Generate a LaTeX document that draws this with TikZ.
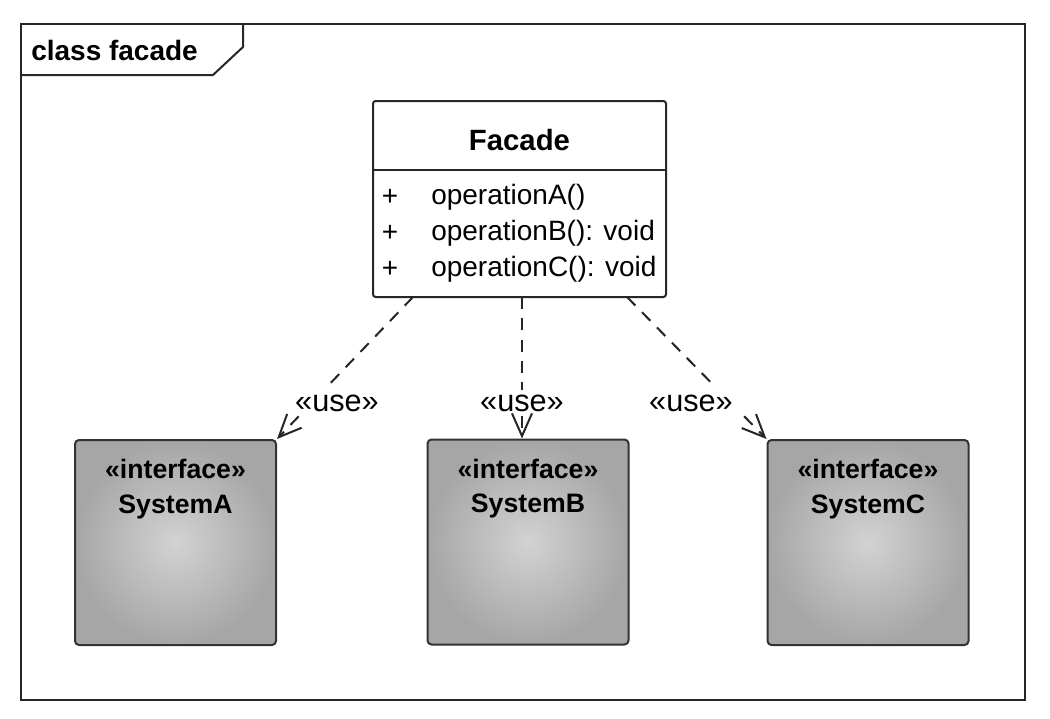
\documentclass[tikz,border=0pt]{standalone}
\usepackage{fontspec}
\setmainfont{Liberation Sans}
\usetikzlibrary{positioning,arrows.meta,calc}

\tikzset{
  framelinestyle/.style={draw=black!85, line width=1.5pt},
  classbox/.style={draw=black!85, line width=1.5pt, fill=white, rounded corners=2pt,
    minimum width=219.75pt, minimum height=147pt, inner sep=0pt},
  sysbox/.style={draw=black!80, line width=1.5pt, rounded corners=3pt,
    inner color=gray!35, outer color=gray!70,
    minimum width=150.75pt, minimum height=153.75pt, inner sep=0pt},
  systext/.style={font=\fontsize{20}{26}\selectfont\bfseries, align=center, inner sep=0pt},
  optext/.style={font=\fontsize{21}{25}\selectfont, inner sep=0.75pt},
  uselabel/.style={font=\fontsize{23}{26}\selectfont, inner sep=3pt},
  usearrow/.style={draw=black!85, line width=1.5pt, dash pattern=on 9pt off 7pt,
    -{Straight Barb[length=17pt,width=15pt,line width=1.5pt]}}
}

\begin{document}
\begin{tikzpicture}[x=0.75pt,y=0.75pt,yscale=-1,xscale=1]
\useasboundingbox (0,0) rectangle (1050,718);

%Frame
\draw[framelinestyle] (21,24) rectangle (1025,700);
%Frame tab
\draw[framelinestyle] (21,75) -- (213,75) -- (243,47) -- (243,24);
% Text Node
\node[anchor=west, inner sep=0pt, font=\fontsize{21}{25}\selectfont\bfseries] (frametitle) at (31,50) {class facade};

%Facade class
\node[classbox] (facade) at (519.5,199) {};
\coordinate (sepy) at (0,170);
\draw[framelinestyle] (facade.west |- sepy) -- (facade.east |- sepy);
\node[inner sep=0pt, font=\fontsize{22}{26}\selectfont\bfseries] (facadetitle) at (519.5,140) {Facade};

%Operations
\node[optext] (plusA) at (390,197) {+};
\node[optext] (plusB) at (390,233) {+};
\node[optext] (plusC) at (390,269) {+};
\node[optext, anchor=west] (opA) at (430,197) {operationA()};
\node[optext, anchor=west] (opB) at (430,233) {operationB(): void};
\node[optext, anchor=west] (opC) at (430,269) {operationC(): void};

%Interfaces
\node[sysbox] (sysA) at (175.5,542.5) {};
\node[sysbox] (sysB) at (528,542) {};
\node[sysbox] (sysC) at (868,542.5) {};
\node[systext, below=15pt of sysA.north] (sysAtext) {«interface»\\SystemA};
\node[systext, below=15pt of sysB.north] (sysBtext) {«interface»\\SystemB};
\node[systext, below=15pt of sysC.north] (sysCtext) {«interface»\\SystemC};

% Text Node
\node[uselabel] (labelA) at (337,403) {«use»};
\node[uselabel] (labelB) at (522,403) {«use»};
\node[uselabel] (labelC) at (691,403) {«use»};

%Dependencies (broken at the labels)
\coordinate (useA) at (413,297);
\coordinate (useB) at (522,297);
\coordinate (useC) at (627,297);
\coordinate (endA) at ($(useA)!0.62!(sysA.north east)$);
\coordinate (arrA) at ($(useA)!0.84!(sysA.north east)$);
\coordinate (endC) at ($(useC)!0.62!(sysC.north west)$);
\coordinate (arrC) at ($(useC)!0.84!(sysC.north west)$);
\draw[usearrow, -] (useA) -- (endA);
\draw[usearrow] (arrA) -- (sysA.north east);
\draw[usearrow, -] (useB) -- (useB |- labelB.north);
\draw[usearrow] (useB |- labelB.south) -- (useB |- sysB.north);
\draw[usearrow, -] (useC) -- (endC);
\draw[usearrow] (arrC) -- (sysC.north west);

\end{tikzpicture}
\end{document}
